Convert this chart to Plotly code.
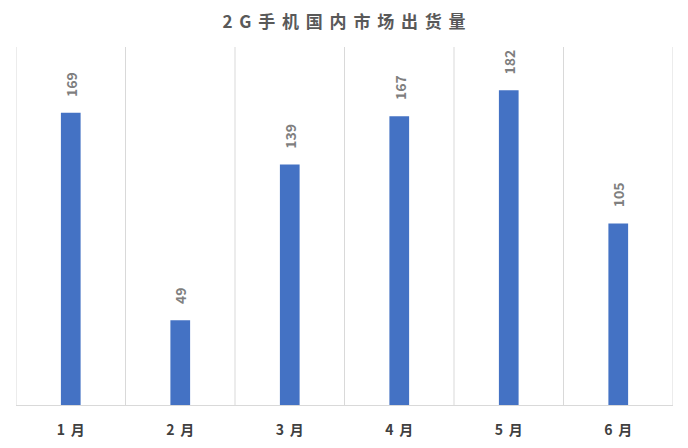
import plotly.graph_objects as go

categories = ["1月", "2月", "3月", "4月", "5月", "6月"]
values = [169, 49, 139, 167, 182, 105]
title_text = "2G手机国内市场出货量"

FONT = "Noto Sans CJK SC, Noto Sans, sans-serif"
SP = "\u2009\u2009"

def spaced(s):
    return SP.join(list(s))

fig = go.Figure()
fig.add_trace(go.Bar(
    x=categories, y=values,
    marker=dict(color="#4472C4", line=dict(width=0)),
    width=0.18,
    hoverinfo="skip",
))

for c, v in zip(categories, values):
    fig.add_annotation(
        x=c, y=v, text=f"<b>{v}</b>", textangle=-90,
        showarrow=False, yanchor="bottom", yshift=14,
        font=dict(family=FONT, size=14, color="#7f7f7f"),
    )

# vertical separators between categories
for i in range(len(categories) + 1):
    fig.add_shape(type="line", xref="x", yref="paper",
                  x0=i - 0.5, x1=i - 0.5, y0=0, y1=1,
                  line=dict(color="#d9d9d9", width=1), layer="below")

fig.update_layout(
    width=688, height=448,
    margin=dict(l=8, r=23, t=39, b=51),
    paper_bgcolor="white", plot_bgcolor="white",
    showlegend=False,
    title=dict(text=f"<b>{spaced(title_text)}</b>", x=(344 - 8) / 688, xanchor="center",
               y=1 - 14 / 448, yanchor="middle",
               font=dict(family=FONT, size=17, color="#595959")),
    xaxis=dict(showgrid=False, showline=True, linecolor="#d9d9d9",
               ticks="", range=[-0.5, 5.5],
               tickvals=categories,
               ticktext=[f"<b>{spaced(c)}</b>" for c in categories],
               tickfont=dict(family=FONT, size=14, color="#404040"),
               ticklabelstandoff=12),
    yaxis=dict(range=[0, 207], showgrid=False, showticklabels=False,
               zeroline=False, showline=False),
)

fig.write_html("out.html")
